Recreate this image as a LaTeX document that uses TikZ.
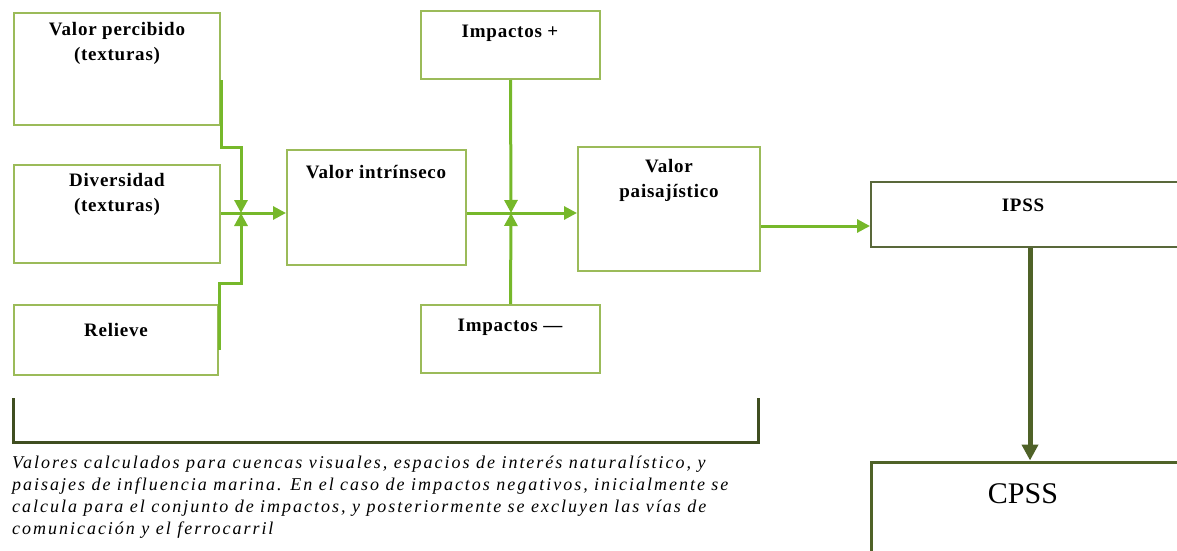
\documentclass[tikz,border=0pt]{standalone}
\usepackage{fontspec}
\setmainfont{Liberation Serif}
\newfontfamily\boxfont[LetterSpace=4]{Liberation Serif}
\newfontfamily\notefont[LetterSpace=11]{Liberation Serif}
\usetikzlibrary{arrows.meta}
\definecolor{boxgreen}{HTML}{9BBB59}
\definecolor{arrowgreen}{RGB}{118,184,42}
\definecolor{darkolive}{HTML}{4F6228}

\begin{document}
\begin{tikzpicture}[x=1pt,y=-1pt,
	box/.style={draw=boxgreen,line width=2pt,fill=white,inner sep=0pt},
	txt/.style={font=\boxfont\fontsize{19}{25}\selectfont\bfseries,align=center,inner sep=0pt},
	conn/.style={draw=arrowgreen,line width=3pt},
	tip/.style={conn,-{Triangle[length=13pt,width=13pt]}},
	darktip/.style={draw=darkolive,line width=5pt,-{Triangle[length=16pt,width=16pt]}},
	]
		\useasboundingbox (0,0) rectangle (1177,551);
		% boxes
		\node[box,minimum width=206pt,minimum height=112pt] (perc) at (117,69) {};
		\node[box,minimum width=206pt,minimum height=98pt] (div) at (117,214) {};
		\node[box,minimum width=204pt,minimum height=70pt] (rel) at (116,340) {};
		\node[box,minimum width=179pt,minimum height=115pt] (intr) at (376.5,207.5) {};
		\node[box,minimum width=179pt,minimum height=68pt] (impP) at (510.5,45) {};
		\node[box,minimum width=179pt,minimum height=68pt] (impN) at (510.5,339) {};
		\node[box,minimum width=182pt,minimum height=124pt] (pais) at (669,209) {};
		\node[box,draw=darkolive!80!gray,minimum width=310pt,minimum height=65pt] (ipss) at (1026,214.5) {};
		\node[box,draw=darkolive,line width=3pt,minimum width=310pt,minimum height=100pt] (cpss) at (1026,512) {};
		% texts
		\node[txt] (percT) at (117,43) {Valor percibido\\(texturas)};
		\node[txt] (divT) at (117,194) {Diversidad\\(texturas)};
		\node[txt] (relT) at (116,330) {Relieve};
		\node[txt] (intrT) at (376,172) {Valor intrínseco};
		\node[txt] (impPT) at (510,33) {Impactos +};
		\node[txt] (impNT) at (510,327) {Impactos —};
		\node[txt] (paisT) at (669,180) {Valor\\paisajístico};
		\node[txt] (ipssT) at (1023,205) {IPSS};
		\node[txt,font=\fontsize{30}{34}\selectfont] (cpssT) at (1023,494) {CPSS};
		% junctions
		\coordinate (j1) at (241,213);
		\coordinate (j2) at (511,213);
		\coordinate (pbend) at (241,147);
		\coordinate (rbend) at (241,283);
		% connectors
		\draw[conn] (div.east |- j1) -- (j1);
		\draw[tip] ([yshift=-11pt]perc.east) |- (pbend) -- (j1);
		\draw[tip] ([yshift=-10pt]rel.east) |- (rbend) -- (j1);
		\draw[tip] (j1) -- (j1 -| intr.west);
		\draw[conn] (intr.east |- j2) -- (j2);
		\draw[tip] (impP.south) -- (j2);
		\draw[tip] (impN.north) -- (j2);
		\draw[tip] (j2) -- (j2 -| pais.west);
		\draw[tip] ([yshift=-17pt]pais.east) -- ([yshift=-17pt]pais.east -| ipss.west);
		\draw[darktip] ([xshift=4pt]ipss.south) -- ([xshift=4pt]cpss.north);
		% bracket and note
		\draw[darkolive!80!black,line width=3pt] (13,398) -- (13,442) -- (758,442) -- (758,398);
		\node[anchor=north west,inner sep=0pt,align=left,font=\notefont\fontsize{18}{22}\selectfont\itshape] (note) at (12,456)
			{Valores calculados para cuencas visuales, espacios de interés naturalístico, y\\
			paisajes de influencia marina. En el caso de impactos negativos, inicialmente se\\
			calcula para el conjunto de impactos, y posteriormente se excluyen las vías de\\
			comunicación y el ferrocarril};
\end{tikzpicture}
\end{document}
